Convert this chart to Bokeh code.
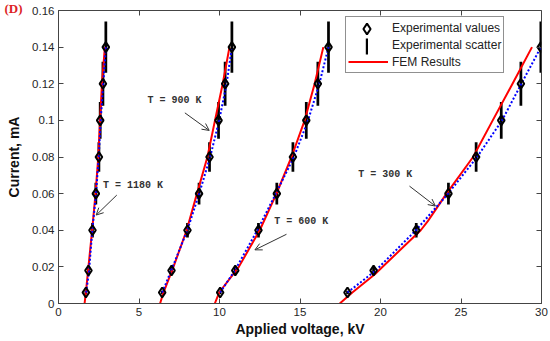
from bokeh.plotting import figure
from bokeh.models import (ColumnDataSource, FixedTicker, LinearAxis, Legend,
                          LegendItem, Arrow, OpenHead)
from bokeh.core.properties import value
from bokeh.embed import file_html
from bokeh.resources import INLINE

# ---------------- data ----------------
x_ticks = [0, 5, 10, 15, 20, 25, 30]
y_ticks = [0, 0.02, 0.04, 0.06, 0.08, 0.10, 0.12, 0.14, 0.16]
y_tick_labels = ["0", "0.02", "0.04", "0.06", "0.08", "0.1", "0.12", "0.14", "0.16"]

# experimental points (current, mA) and scatter (half error, mA)
exp_current = [0.006, 0.018, 0.04, 0.06, 0.08, 0.10, 0.12, 0.14]
exp_scatter = [0.001, 0.002, 0.004, 0.006, 0.008, 0.010, 0.012, 0.014]
exp_v_1180 = [1.70, 1.86, 2.11, 2.32, 2.51, 2.59, 2.76, 2.94]
exp_v_900 = [6.44, 7.02, 8.01, 8.73, 9.38, 9.94, 10.35, 10.77]
exp_v_600 = [10.04, 10.98, 12.42, 13.56, 14.56, 15.39, 16.11, 16.77]
exp_v_300 = [17.95, 19.57, 22.22, 24.22, 25.94, 27.50, 28.72, 29.96]

# blue dotted fit through experiment
fit_v_1180 = [1.72, 1.90, 2.10, 2.33, 2.50, 2.62, 2.78, 2.94]
fit_v_900 = [6.44, 7.00, 8.00, 8.74, 9.42, 9.98, 10.44, 10.77]
fit_v_600 = [10.04, 10.95, 12.35, 13.50, 14.62, 15.50, 16.20, 16.77]
fit_v_300 = [17.95, 19.70, 22.20, 24.20, 26.00, 27.55, 28.75, 29.96]

# FEM results (red)
fem_current = [0, 0.006, 0.02, 0.04, 0.06, 0.08, 0.10, 0.12, 0.14]
fem_v_1180 = [1.62, 1.70, 1.86, 2.09, 2.30, 2.47, 2.58, 2.70, 2.88]
fem_v_900 = [6.31, 6.52, 7.14, 7.96, 8.60, 9.25, 9.72, 10.20, 10.62]
fem_v_600 = [9.71, 9.98, 11.20, 12.50, 13.54, 14.47, 15.29, 15.91, 16.45]
fem_current_300 = [0, 0.006, 0.016, 0.04, 0.045, 0.06, 0.08, 0.10, 0.12, 0.14]
fem_v_300 = [17.47, 18.25, 19.65, 22.50, 22.94, 24.10, 25.75, 26.97, 28.20, 29.41]

# temperature annotations
ann_text = ["T = 1180 K", "T = 900 K", "T = 600 K", "T = 300 K"]
ann_x = [4.63, 7.20, 15.08, 20.30]
ann_y = [0.0647, 0.1108, 0.0447, 0.0705]
arr_x0 = [3.62, 7.85, 14.16, 21.80]
arr_y0 = [0.0592, 0.1041, 0.0378, 0.0641]
arr_x1 = [2.34, 9.36, 12.20, 23.41]
arr_y1 = [0.0483, 0.0945, 0.0293, 0.0532]

# ---------------- figure ----------------
p = figure(width=550, height=341, x_range=(0, 30), y_range=(0, 0.16),
           output_backend="svg", toolbar_location=None,
           min_border_left=58, min_border_right=9, min_border_top=10,
           min_border_bottom=38)
p.grid.visible = False
p.outline_line_color = "#444444"
p.background_fill_color = "white"

# panel tag "(D)"
p.title.text = "(D)"
p.title.align = "left"
p.title.offset = -54
p.title.standoff = -11.5
p.title.text_font = "Liberation Serif"
p.title.text_font_style = "bold"
p.title.text_font_size = "13px"
p.title.text_color = "#dd1f26"
p.title.text_baseline = "middle"

axis_col = "#444444"
lab_col = "#262626"

xa = p.xaxis[0]
xa.ticker = FixedTicker(ticks=x_ticks)
ya = p.yaxis[0]
ya.ticker = FixedTicker(ticks=y_ticks)
ya.major_label_overrides = {t: l for t, l in zip(y_ticks, y_tick_labels)}
for ax in (xa, ya):
    ax.major_tick_in = 5
    ax.major_tick_out = 0
    ax.minor_tick_in = 0
    ax.minor_tick_out = 0
    ax.axis_line_color = axis_col
    ax.major_tick_line_color = axis_col
    ax.major_label_text_font = "Liberation Sans"
    ax.major_label_text_font_size = "11.5px"
    ax.major_label_text_color = lab_col
    ax.axis_label_text_font = "Liberation Sans"
    ax.axis_label_text_font_style = "bold"
    ax.axis_label_text_font_size = "14px"
    ax.axis_label_text_color = "#111111"
xa.major_label_standoff = 4
xa.axis_label_standoff = 2
ya.major_label_standoff = 4
ya.axis_label_standoff = 7
xa.axis_label = "Applied voltage, kV"
ya.axis_label = "Current, mA"

for side, tick, loc in (("above", x_ticks, 0.16), ("right", y_ticks, 30)):
    ax = LinearAxis(ticker=FixedTicker(ticks=tick), fixed_location=loc)
    ax.major_tick_in = 5
    ax.major_tick_out = 0
    ax.minor_tick_in = 0
    ax.minor_tick_out = 0
    ax.major_label_text_alpha = 0
    ax.major_label_text_font_size = "1px"
    ax.major_label_standoff = 0
    ax.axis_line_color = axis_col
    ax.major_tick_line_color = axis_col
    p.add_layout(ax, side)

# ---------------- marks ----------------
groups = [(exp_v_1180, fit_v_1180, fem_current, fem_v_1180),
          (exp_v_900, fit_v_900, fem_current, fem_v_900),
          (exp_v_600, fit_v_600, fem_current, fem_v_600),
          (exp_v_300, fit_v_300, fem_current_300, fem_v_300)]

ex, ey, elo, ehi = [], [], [], []
for ev, _, _, _ in groups:
    ex += ev
    ey += exp_current
    elo += [c - e for c, e in zip(exp_current, exp_scatter)]
    ehi += [c + e for c, e in zip(exp_current, exp_scatter)]
exp_src = ColumnDataSource(dict(x=ex, y=ey, lo=elo, hi=ehi))

# experimental scatter bars
bars = p.vbar(x="x", bottom="lo", top="hi", width=0.17, source=exp_src,
              fill_color="black", line_color=None)

fem_renderers = []
for ev, fv, fc, fmv in groups:
    r = p.line(fmv, fc, line_color="#ff0000", line_width=2)
    fem_renderers.append(r)
    p.line(fv, exp_current, line_color="#0000ff", line_width=2, line_dash="2 2")

pts = p.scatter(x="x", y="y", source=exp_src, marker="diamond", size=10,
                fill_color=None, line_color="black", line_width=2)

# transparent stand-in so the main legend rows keep their labels only
blank = p.line(x="x", y="y", source=exp_src, line_alpha=0)

# annotations
ann_src = ColumnDataSource(dict(x=ann_x, y=ann_y, t=ann_text))
p.text(x="x", y="y", text="t", source=ann_src, text_font=value("Liberation Mono"),
       text_font_style="bold", text_font_size="10px", text_color="#333333",
       text_align="center", text_baseline="middle")
for a, b, c, d in zip(arr_x0, arr_y0, arr_x1, arr_y1):
    p.add_layout(Arrow(x_start=a, y_start=b, x_end=c, y_end=d,
                       line_color="#333333", line_width=1,
                       end=OpenHead(size=7, line_color="#333333", line_width=1)))

legend = Legend(items=[LegendItem(label="Experimental values", renderers=[blank]),
                       LegendItem(label="Experimental scatter", renderers=[blank]),
                       LegendItem(label="FEM Results", renderers=[fem_renderers[0]])],
                location=(287, 230), glyph_width=40, glyph_height=17,
                label_height=17, spacing=0, padding=2, margin=0,
                label_standoff=4, label_text_font="Liberation Sans",
                label_text_font_size="12px", label_text_color="#222222",
                border_line_color="#222222", border_line_width=1,
                background_fill_color="white", background_fill_alpha=1)
p.add_layout(legend)

# larger diamond glyph for the "Experimental values" row
pts_legend = Legend(items=[LegendItem(label=" ", renderers=[pts])],
                    location=(295, 261), glyph_width=27, glyph_height=27,
                    label_height=27, label_width=0, label_standoff=0,
                    padding=0, margin=0, spacing=0,
                    label_text_font_size="1px",
                    border_line_color=None, background_fill_alpha=0)
p.add_layout(pts_legend)

# thin vertical glyph for the "Experimental scatter" row
bar_legend = Legend(items=[LegendItem(label=" ", renderers=[bars])],
                    location=(307, 247), glyph_width=3, glyph_height=20,
                    label_height=20, label_width=0, label_standoff=0,
                    padding=0, margin=0, spacing=0,
                    label_text_font_size="1px",
                    border_line_color=None, background_fill_alpha=0)
p.add_layout(bar_legend)

open("out.html", "w").write(file_html(p, INLINE))
